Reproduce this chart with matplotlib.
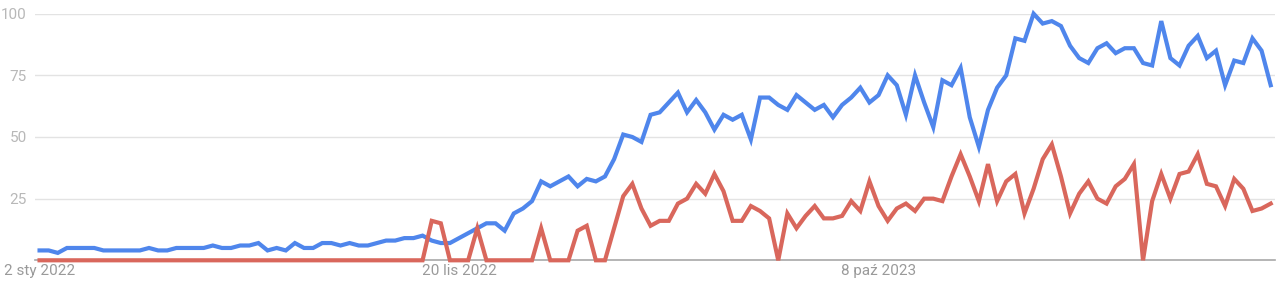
import matplotlib
matplotlib.use("Agg")
import matplotlib.pyplot as plt
import pandas as pd

plt.rcParams['font.family'] = ['Roboto', 'DejaVu Sans']

start_date = "2022-01-02"
n_weeks = 136

blue_values = [
    4, 4, 3, 5, 5, 5, 5, 4, 4, 4,
    4, 4, 5, 4, 4, 5, 5, 5, 5, 6,
    5, 5, 6, 6, 7, 4, 5, 4, 7, 5,
    5, 7, 7, 6, 7, 6, 6, 7, 8, 8,
    9, 9, 10, 8, 7, 7, 9, 11, 13, 15,
    15, 12, 19, 21, 24, 32, 30, 32, 34, 30,
    33, 32, 34, 41, 51, 50, 48, 59, 60, 64,
    68, 60, 65, 60, 53, 59, 57, 59, 49, 66,
    66, 63, 61, 67, 64, 61, 63, 58, 63, 66,
    70, 64, 67, 75, 71, 59, 75, 64, 54, 73,
    71, 78, 58, 46, 61, 70, 75, 90, 89, 100,
    96, 97, 95, 87, 82, 80, 86, 88, 84, 86,
    86, 80, 79, 97, 82, 79, 87, 91, 82, 85,
    71, 81, 80, 90, 85, 71,
]

red_values = [
    0, 0, 0, 0, 0, 0, 0, 0, 0, 0,
    0, 0, 0, 0, 0, 0, 0, 0, 0, 0,
    0, 0, 0, 0, 0, 0, 0, 0, 0, 0,
    0, 0, 0, 0, 0, 0, 0, 0, 0, 0,
    0, 0, 0, 16, 15, 0, 0, 0, 13, 0,
    0, 0, 0, 0, 0, 13, 0, 0, 0, 12,
    14, 0, 0, 13, 26, 31, 21, 14, 16, 16,
    23, 25, 31, 27, 35, 28, 16, 16, 22, 20,
    17, 0, 19, 13, 18, 22, 17, 17, 18, 24,
    20, 32, 22, 16, 21, 23, 20, 25, 25, 24,
    34, 43, 34, 24, 39, 24, 32, 35, 19, 29,
    41, 47, 34, 19, 27, 32, 25, 23, 30, 33,
    39, 0, 24, 35, 25, 35, 36, 43, 31, 30,
    22, 33, 29, 20, 21, 23,
]

x_tick_dates = ["2022-01-02", "2022-11-20", "2023-10-08"]
x_tick_labels = ["2 sty 2022", "20 lis 2022", "8 paź 2023"]
y_ticks = [25, 50, 75, 100]
y_tick_labels = ["25", "50", "75", "100"]

blue_color = "#4f86ec"
red_color = "#d9675c"

dates = pd.date_range(start_date, periods=n_weeks, freq="W-SUN")

fig = plt.figure(figsize=(12.8, 2.85), dpi=100)
ax = fig.add_axes([35 / 1280, (285 - 260.3) / 285, 1240 / 1280, 246.6 / 285])

ax.plot(dates, blue_values, color=blue_color, lw=3.0, solid_joinstyle="miter",
        clip_on=False, zorder=3)
ax.plot(dates, red_values, color=red_color, lw=3.0, solid_joinstyle="miter",
        clip_on=False, zorder=4)

ax.set_xlim(dates[0] - pd.Timedelta(days=3.5), dates[-1] + pd.Timedelta(days=3.3))
ax.set_ylim(0, 100)

for s in ax.spines.values():
    s.set_visible(False)

ax.set_yticks(y_ticks)
ax.set_yticklabels(y_tick_labels)
ax.yaxis.grid(True, color="#e3e3e3", lw=1.0)
ax.axhline(0, color="#a8a8a8", lw=1.2, zorder=2, clip_on=False)
ax.set_axisbelow(True)

ax.set_xticks(pd.to_datetime(x_tick_dates))
ax.set_xticklabels(x_tick_labels)
ax.tick_params(axis="x", length=0, pad=3, labelsize=11, labelcolor="#9a9a9a")
ax.tick_params(axis="y", length=0, pad=6, labelsize=11, labelcolor="#b8b8b8")

fig.savefig("out.png", dpi=100, facecolor="white")
